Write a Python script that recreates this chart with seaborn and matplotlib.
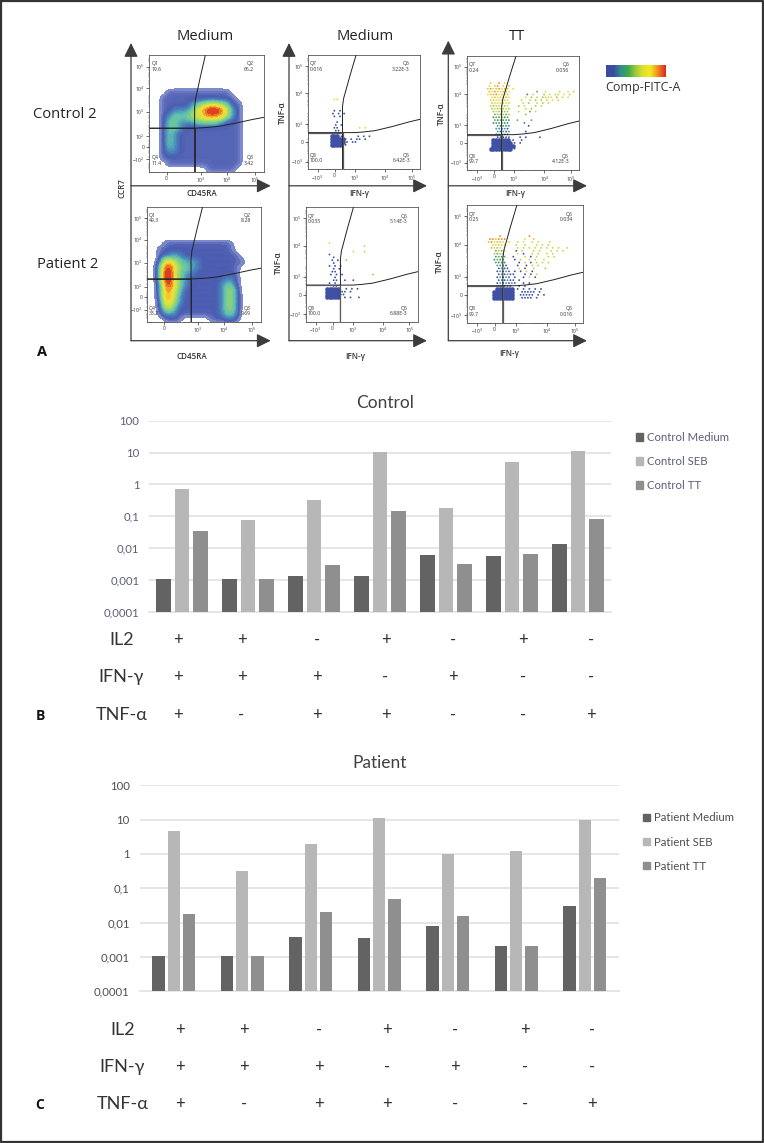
import numpy as np
import pandas as pd
import matplotlib.pyplot as plt
from matplotlib.colors import LinearSegmentedColormap
from matplotlib.patches import Patch
import seaborn as sns

W, H = 764, 1143

# bar values
combos = ['a', 'b', 'c', 'd', 'e', 'f', 'g']
control_medium = [0.001, 0.001, 0.00122, 0.00122, 0.0061, 0.00554, 0.0138]
control_seb = [0.728, 0.076, 0.33, 10.2, 0.18, 5.2, 11.3]
control_tt = [0.0336, 0.001, 0.0029, 0.146, 0.00318, 0.0065, 0.084]
patient_medium = [0.001, 0.001, 0.00374, 0.00342, 0.00764, 0.00205, 0.0305]
patient_seb = [4.68, 0.313, 1.95, 11.2, 1.0, 1.25, 9.8]
patient_tt = [0.0179, 0.001, 0.0209, 0.0489, 0.0156, 0.00205, 0.195]
log_labels = ['0,0001', '0,001', '0,01', '0,1', '1', '10', '100']
log_ticks = [0.0001, 0.001, 0.01, 0.1, 1, 10, 100]
il2 = ['+', '+', '-', '+', '-', '+', '-']
ifn = ['+', '+', '+', '-', '+', '-', '-']
tnf = ['+', '-', '+', '+', '-', '-', '+']

# density, 5% cells, rows from y=67.5% down
dens_control = [
    "00011111111111000000",
    "00111111111111100000",
    "00111112345543110000",
    "00112223579985210000",
    "00123334567764210000",
    "00133222333321110000",
    "00133211111111110000",
    "00132111111111110000",
    "00132111111111110000",
    "00132111111111110000",
    "00122111111111110000",
    "00111111111111110000",
    "00011111111111110000",
    "00000000001111100000",
]
dens_patient = [
    "00011111111111100000",
    "00111111111111100000",
    "00112211111111110000",
    "00164322211111111000",
    "00386332211111110000",
    "00396322111111110000",
    "00396321111111210000",
    "00286321111112310000",
    "00275311111112420000",
    "00275211111112420000",
    "00174211111112420000",
    "00153111111112420000",
    "00122111111112320000",
    "00011100000111210000",
]

# dot maps, 2.5% cells: digit = Comp-FITC level, B = solid blue core
dots_ctrl_medium = [
    ".........66", "", "", "",
    ".........0.0",
    "........0.0.0",
    ".........0.0",
    "",
    "..........0",
    ".........0.0",
    ".........00.......6.6",
    ".........00",
    ".........000",
    "........BBB0.....0.0.0",
    "........BBBBB0.0.00.0",
    "........BBBBB0.00",
    "........BBBB00",
]
dots_pat_medium = [
    "........6",
    "....................5",
    "",
    "................6...5",
    "........0",
    ".........0",
    ".........0.0..4",
    ".........0",
    "........0.0.0",
    ".........0.0",
    ".........00",
    "........0.0.0..........4",
    "..........0",
    ".........00..0..0",
    "........0.0",
    ".........00",
    ".......BBBBB..0.0.0",
    ".......BBBBB00.0",
    ".......BBBBB00",
    ".......BBBBB.0.0..0",
]
dots_ctrl_tt = [
    "........7..8.6",
    ".......6.78.6.7",
    ".......78678677.6",
    ".......76876776.........3..6....5..6.7",
    ".......67786767......2.5...4.6.55.6.5",
    "........6767676.....6.4.5.4556.4.5.6",
    "........6766656....5..5.4.4.5.6.5",
    "........5656565....5.4..5.4.5.",
    "........5455545...4.5...4.5",
    "........4545454.....5.4...",
    ".........454344...5...3.5",
    ".........343434.....4",
    ".........232323",
    ".........323232..3....3",
    ".........212121.....2",
    "..........12121......0",
    "..........11010",
    "..........10101.....0",
    "..........01010",
    "..........00000...0.0....0",
    ".........BBBBBB.0..0",
    ".........BBBBBBB0.0",
    ".........BBBBBBBB",
    "........BBBBBBBB0",
]
dots_pat_tt = [
    "...........8.........8",
    ".......887888......6..7",
    ".......786776.6..5.6..5.6...5",
    "........66756...5..5...5.5.5",
    "........4546.....5.5.5.5.5.5.5.5..5",
    ".........3435...0.5...5.5...5.5.5",
    ".........4343....5.0..5.5..5.5",
    ".........2323..0...5.0.5...5.5",
    ".........2323...0.5..5.5..5",
    ".........1212....0.5.0.5.5.5",
    "..........1210...0..0.5.5",
    "..........0100...5.0..5...4",
    "..........01010.0.0.5.0",
    "..........010100...0.0.5",
    "..........01010.0..0.5.0",
    "..........010100.0",
    "..........0101010..0.0",
    "..........00000..0.0",
    "..........BBBBBB.0.0.0.0.0",
    ".........BBBBBBB..00000.0",
    ".........BBBBBBB..00000.0.0",
    ".........BBBBBBB..0000.0",
]

# tick positions in % of each plot
ccr7_y = [10.6, 21.4, 30.6, 51.4, 71.4, 90]
ccr7_ylab = ['$-10^2$', '0', '$10^2$', '$10^3$', '$10^4$', '$10^5$']
cd45_x = [15, 44.8, 67.4, 92]
cd45_xlab = ['0', '$10^3$', '$10^4$', '$10^5$']
tnf_y = [6.5, 23.5, 39.3, 66.6, 90.6]
tnf_ylab = ['$-10^3$', '0', '$10^3$', '$10^4$', '$10^5$']
ifn_x = [8.9, 24, 42, 69, 92.6]
ifn_xlab = ['$-10^3$', '0', '$10^3$', '$10^4$', '$10^5$']
minor_pos = [3, 5, 7, 13, 16, 18, 20, 22, 24, 26, 33, 36, 38, 40, 43, 46, 48, 56, 59, 61, 63, 65, 75, 78, 81, 83, 85, 87, 89, 95, 97]

gate_tx = [0, 0, 0.08, 0.27, 0.55, 0.8, 1]
gate_ty = [0, 0.55, 0.62, 0.7, 0.82, 0.92, 1]
gate_hx = [0, 0.42, 0.5, 0.6, 0.75, 0.9, 1]
gate_hy = [0, 0, 0.05, 0.15, 0.45, 0.8, 1]

level_colors = ['#3f50a5', '#3d9a9a', '#3f8f5a', '#6aa84a', '#a5c844',
                '#c8d84a', '#e8dc40', '#e8c030', '#e89030', '#d84a28']
fitc_stops = ['#3a4ba0', '#3a4ba0', '#2f8f8a', '#3fa84a', '#9ccc3c', '#e0e030', '#f2e81c', '#f08a20', '#dc2a20']
bar_colors = ['#636363', '#b7b7b7', '#8f8f8f']

sns.set_theme(style='white')
plt.rcParams['font.family'] = ['Open Sans', 'DejaVu Sans']
plt.rcParams['mathtext.default'] = 'regular'

density_cmap = LinearSegmentedColormap.from_list('dens', [
    (0, '#8a96d2'), (0.1, '#4a5bb0'), (0.2, '#4a84bd'), (0.3, '#5fc0b0'),
    (0.45, '#9ad86a'), (0.6, '#d8e04a'), (0.72, '#f0e030'), (0.85, '#f08a28'), (1, '#d8281f')])
fitc_cmap = LinearSegmentedColormap.from_list('fitc', fitc_stops)

fig = plt.figure(figsize=(W / 100, H / 100), dpi=100, facecolor='white')


def px_axes(left, top, right, bottom, **kw):
    return fig.add_axes([left / W, 1 - bottom / H, (right - left) / W, (bottom - top) / H], **kw)


def density_frame(rows):
    recs = []
    for r, row in enumerate(rows):
        for c, ch in enumerate(row):
            if ch != '0':
                recs.append((2.5 + 5 * c, 67.5 - 5 * r, int(ch)))
    return pd.DataFrame(recs, columns=['x', 'y', 'w'])


def dot_frame(rows, first_row):
    recs = []
    for r, row in enumerate(rows):
        for c, ch in enumerate(row):
            if ch != '.':
                # every other row sits half a cell over so the dots do not line up in columns
                shift = 1.25 if (r % 2 and ch != 'B') else 0
                recs.append((2.5 * (c + .5) + shift, 100 - 2.5 * (first_row + r + .5), ch))
    return pd.DataFrame(recs, columns=['x', 'y', 'level'])


def flow_panel(box, vx, hy, top_x, end_y, xt, xl, yt, yl, texts, dens=None, dots=None, first_row=0):
    ax = px_axes(*box)
    if dens is not None:
        d = density_frame(dens)
        sns.kdeplot(data=d, x='x', y='y', weights='w', fill=True, levels=28, thresh=0.02,
                    cmap=density_cmap, bw_adjust=0.36, ax=ax)
    if dots is not None:
        d = dot_frame(dots, first_row)
        core = d[d['level'] == 'B']
        sns.scatterplot(data=core, x='x', y='y', color=level_colors[0], s=11, marker='o',
                        linewidth=0, ax=ax, legend=False)
        pts = d[d['level'] != 'B']
        sns.scatterplot(data=pts, x='x', y='y', hue='level', s=1.8, linewidth=0, ax=ax, legend=False,
                        palette={str(i): c for i, c in enumerate(level_colors)})
    # gates
    low_col = '#222222' if dens is not None else '#5a5a5a'
    low_lw = 0.6 if dens is not None else 0.9
    ax.plot([vx + (top_x - vx) * f for f in gate_tx], [100 * f for f in gate_ty], color='#222222', lw=0.7)
    ax.plot([vx, vx], [0, hy], color=low_col, lw=low_lw)
    ax.plot([100 * f for f in gate_hx], [hy + (end_y - hy) * f for f in gate_hy], color='#222222', lw=0.7)
    ax.plot([0, vx], [hy, hy], color=low_col, lw=low_lw)
    ax.set_xlim(0, 100)
    ax.set_ylim(0, 100)
    ax.set_xlabel('')
    ax.set_ylabel('')
    ax.set_xticks(xt)
    ax.set_xticklabels(xl)
    ax.set_yticks(yt)
    ax.set_yticklabels(yl)
    ax.set_xticks(minor_pos, minor=True)
    ax.set_yticks(minor_pos, minor=True)
    ax.tick_params(which='major', direction='out', length=2, width=0.5, labelsize=3.6, pad=1.2,
                   colors='#333333', bottom=True, left=True)
    ax.tick_params(which='minor', direction='out', length=1, width=0.3, colors='#333333', bottom=True, left=True)
    for s in ax.spines.values():
        s.set_linewidth(0.5)
        s.set_color('#333333')
    for (x, y, ha, t) in texts:
        ax.text(x, y, t, fontsize=3.7, ha=ha, va='center', color='#333333', linespacing=1.1)
    return ax


def quad(a, b, c, d):
    return [(2, 90, 'left', a), (91, 90, 'right', b), (2, 9.5, 'left', d), (91, 9.5, 'right', c)]


flow_panel((149.3, 55, 264, 171.7), 39.5, 37.4, 48.9, 46.6, cd45_x, cd45_xlab, ccr7_y, ccr7_ylab,
           quad('Q1\n19.6', 'Q2\n66.2', 'Q3\n3.42', 'Q4\n11.4'), dens=dens_control)
flow_panel((146.7, 206.7, 261.3, 321.7), 38.7, 37.3, 48.8, 46.6, cd45_x, cd45_xlab, ccr7_y, ccr7_ylab,
           quad('Q1\n49.3', 'Q2\n8.28', 'Q3\n9.69', 'Q4\n33.2'), dens=dens_patient)
flow_panel((307.7, 55.3, 420, 169), 31, 32, 43, 43.7, ifn_x, ifn_xlab, tnf_y, tnf_ylab,
           quad('Q7\n0.016', 'Q6\n3.22E-3', 'Q5\n6.42E-3', 'Q8\n100.0'), dots=dots_ctrl_medium, first_row=15)
flow_panel((305.7, 207.3, 417.7, 321.7), 31, 32, 42.6, 43.7, ifn_x, ifn_xlab, tnf_y, tnf_ylab,
           quad('Q7\n0.035', 'Q6\n5.14E-3', 'Q5\n6.88E-3', 'Q8\n100.0'), dots=dots_pat_medium, first_row=12)
flow_panel((466.7, 56, 579.3, 170), 31, 31, 43.8, 43, ifn_x, ifn_xlab, tnf_y, tnf_ylab,
           quad('Q7\n0.24', 'Q6\n0.056', 'Q5\n4.12E-3', 'Q8\n99.7'), dots=dots_ctrl_tt, first_row=9)
flow_panel((466.7, 205.3, 583.3, 322.7), 31, 31.5, 43, 43, ifn_x, ifn_xlab, tnf_y, tnf_ylab,
           quad('Q7\n0.25', 'Q6\n0.034', 'Q5\n0.016', 'Q8\n99.7'), dots=dots_pat_tt, first_row=10)


def bar_panel(box, series, prefix, label_col, legend_xy):
    ax = px_axes(*box)
    groups = [f'{prefix} {n}' for n in ['Medium', 'SEB', 'TT']]
    tidy = pd.DataFrame({'combo': combos * 3,
                         'value': sum(series, []),
                         'group': [g for g in groups for _ in combos]})
    width = 0.83 if prefix == 'Control' else 0.666
    ax.set_yscale('log')
    # bars start at the axis floor, a zero base does not fill on a log axis
    sns.barplot(data=tidy, x='combo', y='value', hue='group', palette=bar_colors, width=width, gap=0.2,
                saturation=1, errorbar=None, bottom=0.0001, linewidth=0, edgecolor='none', legend=False,
                ax=ax, zorder=3)
    ax.set_xlim(-0.5, 6.5)
    ax.set_ylim(0.0001, 100)
    ax.set_yticks(log_ticks)
    ax.set_yticklabels(log_labels)
    ax.minorticks_off()
    ax.set_xticks([])
    ax.set_xlabel('')
    ax.set_ylabel('')
    ax.grid(axis='y', color='#e4e4e4', lw=1.3)
    ax.grid(axis='x', visible=False)
    ax.set_axisbelow(True)
    for name, s in ax.spines.items():
        s.set_visible(name == 'bottom')
        s.set_color('#e4e4e4')
        s.set_linewidth(1.3)
    ax.tick_params(axis='y', length=0, pad=7, labelsize=8.2, labelcolor=label_col)
    for t in ax.get_yticklabels():
        t.set_fontfamily(['Lato', 'DejaVu Sans'])
    handles = [Patch(color=c, label=g) for c, g in zip(bar_colors, groups)]
    ax.legend(handles=handles, loc='center left', bbox_to_anchor=(legend_xy[0] / W, 1 - legend_xy[1] / H),
              bbox_transform=fig.transFigure, frameon=False, labelspacing=1.15,
              handlelength=0.65, handleheight=0.65, handletextpad=0.35, borderpad=0, borderaxespad=0,
              prop={'family': ['Lato', 'DejaVu Sans'], 'size': 8.2}, labelcolor=label_col)
    return ax


bar_panel((149, 420.7, 611, 612), [control_medium, control_seb, control_tt], 'Control', '#5a6078', (635.5, 461.5))
bar_panel((139.5, 785.3, 619, 991.3), [patient_medium, patient_seb, patient_tt], 'Patient', '#4f4f4f', (642.5, 842))

# colour key
key = px_axes(605.7, 65, 665.7, 77.3)
sns.heatmap(np.linspace(0, 1, 120).reshape(1, -1), cmap=fitc_cmap, cbar=False, xticklabels=False,
            yticklabels=False, ax=key)

# everything else sits on one overlay in pixel coordinates
ov = fig.add_axes([0, 0, 1, 1], facecolor='none')
ov.set_xlim(0, W)
ov.set_ylim(H, 0)
ov.axis('off')
ov.plot([0.6, W - 0.6, W - 0.6, 0.6, 0.6], [0.8, 0.8, H - 1.2, H - 1.2, 0.8], color='#333333', lw=1.6, clip_on=False)


def arrow(x0, y0, x1, y1):
    ov.annotate('', xy=(x1, y1), xytext=(x0, y0),
                arrowprops=dict(arrowstyle='-|>,head_length=0.85,head_width=0.42', mutation_scale=10,
                                color='#3c3c3c', lw=0.9, shrinkA=0, shrinkB=0))


for x0, xtip, ytip in [(131, 270.7, 43), (289, 427, 43), (448.3, 587, 40.7)]:
    arrow(x0, 340.7, x0, ytip)
    arrow(x0, 340.7, xtip, 340.7)
    arrow(x0, 185.8, xtip, 185.8)

for x, y, t in [(205, 37, 'Medium'), (365, 36, 'Medium'), (517, 36, 'TT'),
                (65, 114, 'Control 2'), (68, 264, 'Patient 2')]:
    ov.text(x, y, t, fontsize=10.6, ha='center', va='center', color='#222222')

for x, y, t in [(201.7, 194, 'CD45RA'), (191.7, 356.7, 'CD45RA'), (359, 193, 'IFN-γ'), (355.7, 356.7, 'IFN-γ'),
                (515, 193, 'IFN-γ'), (509, 354, 'IFN-γ')]:
    ov.text(x, y, t, fontsize=5.8, ha='center', va='center', color='#333333', fontweight='semibold')
for x, y, t in [(121.7, 188, 'CCR7'), (282, 113, 'TNF-α'), (278, 263, 'TNF-α'), (441.7, 114, 'TNF-α'),
                (439, 261.7, 'TNF-α')]:
    ov.text(x, y, t, fontsize=5.8, ha='center', va='center', rotation=90, color='#333333', fontweight='semibold')

ov.text(605, 88, 'Comp-FITC-A', fontsize=9, ha='left', va='center', color='#333333')
ov.text(42, 352, 'A', fontsize=10.5, ha='center', va='center', color='#111111', fontweight='bold')
ov.text(40, 715.5, 'B', fontsize=10, ha='center', va='center', color='#111111', fontweight='bold')
ov.text(40, 1105, 'C', fontsize=10, ha='center', va='center', color='#111111', fontweight='bold')

lato = ['Lato', 'DejaVu Sans']
ov.text(385, 403, 'Control', fontsize=12.5, ha='center', va='center', color='#404040', family=lato)
ov.text(380, 763, 'Patient', fontsize=12.5, ha='center', va='center', color='#404040', family=lato)

control_cols = [178, 241.5, 317, 385.5, 453, 523, 591]
patient_cols = [180, 244, 318.6, 387, 455, 525, 592]
for cols, ys, lab_x in [(control_cols, [640, 677, 715], 121.5), (patient_cols, [1030, 1067, 1104], 122.5)]:
    for y, name, signs in zip(ys, ['IL2', 'IFN-γ', 'TNF-α'], [il2, ifn, tnf]):
        ov.text(lab_x, y, name, fontsize=13, ha='center', va='center', color='#333333', family=lato)
        for x, s in zip(cols, signs):
            ov.text(x, y, s, fontsize=12, ha='center', va='center', color='#333333', family=lato)

fig.savefig('out.png', dpi=100)
